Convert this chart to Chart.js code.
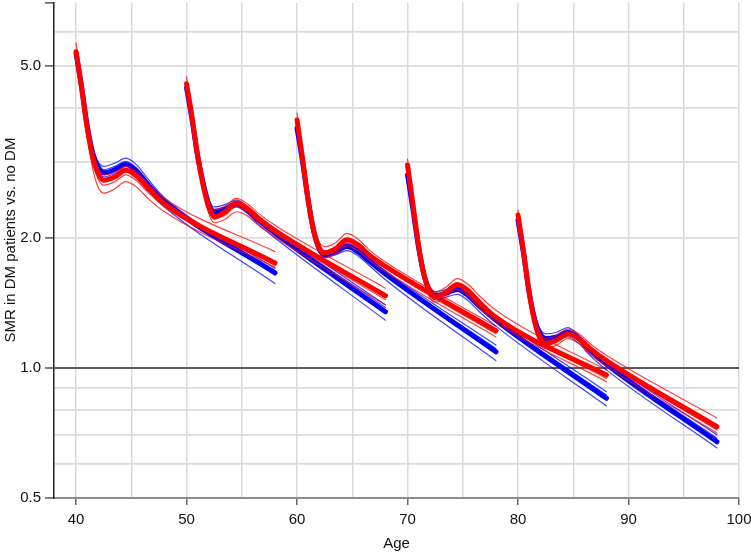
<!DOCTYPE html>
<html><head><meta charset="utf-8">
<script src="https://cdn.jsdelivr.net/npm/chart.js@4"></script>
<style>html,body{margin:0;padding:0;background:#fff;}#wrap{width:751px;height:553px;position:relative;}</style>
</head><body><div id="wrap"><canvas id="c"></canvas></div>
<script>
// Age at which each follow-up curve starts
const groupStarts = [40, 50, 60, 70, 80];
// Years after start at which each curve is read
const ageOffsets = [0, 0.5, 1, 1.5, 2, 2.5, 3.5, 4.5, 5.5, 6.5, 8, 18];

// SMR values, one row per start age
const blueMain = [
  [5.35, 4.47, 3.65, 3.15, 2.92, 2.83, 2.88, 2.96, 2.85, 2.66, 2.43, 1.66],
  [4.45, 3.75, 3.10, 2.68, 2.40, 2.30, 2.33, 2.40, 2.32, 2.20, 2.05, 1.35],
  [3.59, 3.00, 2.45, 2.08, 1.89, 1.83, 1.86, 1.91, 1.86, 1.77, 1.65, 1.09],
  [2.80, 2.32, 1.90, 1.64, 1.51, 1.47, 1.49, 1.52, 1.47, 1.39, 1.29, 0.851],
  [2.20, 1.84, 1.50, 1.30, 1.20, 1.17, 1.18, 1.21, 1.17, 1.10, 1.02, 0.675]
];
const redMain = [
  [5.40, 4.45, 3.60, 3.08, 2.82, 2.72, 2.77, 2.87, 2.78, 2.61, 2.40, 1.75],
  [4.55, 3.80, 3.10, 2.65, 2.36, 2.24, 2.30, 2.41, 2.34, 2.22, 2.08, 1.47],
  [3.75, 3.05, 2.45, 2.08, 1.90, 1.85, 1.89, 1.98, 1.93, 1.83, 1.72, 1.22],
  [2.95, 2.38, 1.92, 1.64, 1.50, 1.46, 1.50, 1.56, 1.51, 1.42, 1.31, 0.963],
  [2.26, 1.86, 1.50, 1.28, 1.17, 1.14, 1.16, 1.20, 1.17, 1.11, 1.04, 0.731]
];
const blueUpper = [
  [5.30, 4.50, 3.72, 3.23, 3.00, 2.93, 2.98, 3.06, 2.95, 2.74, 2.48, 1.70],
  [4.40, 3.75, 3.12, 2.72, 2.46, 2.36, 2.39, 2.45, 2.37, 2.25, 2.10, 1.40],
  [3.55, 2.98, 2.46, 2.11, 1.92, 1.86, 1.89, 1.94, 1.89, 1.80, 1.68, 1.13],
  [2.78, 2.33, 1.93, 1.67, 1.54, 1.50, 1.52, 1.55, 1.50, 1.42, 1.32, 0.881],
  [2.18, 1.84, 1.52, 1.32, 1.23, 1.20, 1.21, 1.24, 1.19, 1.12, 1.04, 0.700]
];
const blueInner = [
  [5.32, 4.49, 3.69, 3.19, 2.96, 2.88, 2.93, 3.01, 2.90, 2.70, 2.45, 1.68],
  [4.42, 3.75, 3.11, 2.70, 2.43, 2.33, 2.36, 2.43, 2.35, 2.23, 2.08, 1.38],
  [3.57, 2.99, 2.45, 2.09, 1.90, 1.85, 1.88, 1.93, 1.88, 1.79, 1.66, 1.11],
  [2.79, 2.32, 1.91, 1.65, 1.52, 1.48, 1.50, 1.53, 1.48, 1.40, 1.30, 0.866],
  [2.19, 1.84, 1.51, 1.31, 1.21, 1.18, 1.19, 1.22, 1.18, 1.11, 1.03, 0.688]
];
const blueLower = [
  [5.25, 4.40, 3.60, 3.10, 2.86, 2.77, 2.82, 2.90, 2.78, 2.58, 2.36, 1.57],
  [4.35, 3.70, 3.05, 2.64, 2.38, 2.27, 2.30, 2.36, 2.28, 2.15, 2.00, 1.29],
  [3.50, 2.93, 2.40, 2.04, 1.85, 1.80, 1.83, 1.87, 1.82, 1.73, 1.60, 1.04],
  [2.74, 2.28, 1.87, 1.61, 1.48, 1.44, 1.46, 1.48, 1.43, 1.35, 1.25, 0.817],
  [2.15, 1.80, 1.48, 1.28, 1.18, 1.15, 1.16, 1.18, 1.14, 1.07, 0.99, 0.653]
];
const redUpper = [
  [5.65, 4.60, 3.70, 3.15, 2.90, 2.80, 2.84, 2.93, 2.84, 2.67, 2.47, 1.86],
  [4.72, 3.90, 3.18, 2.72, 2.44, 2.32, 2.37, 2.47, 2.40, 2.28, 2.14, 1.53],
  [3.89, 3.12, 2.50, 2.13, 1.96, 1.91, 1.95, 2.05, 1.99, 1.88, 1.76, 1.25],
  [3.04, 2.44, 1.96, 1.68, 1.55, 1.50, 1.54, 1.61, 1.56, 1.47, 1.36, 0.990],
  [2.32, 1.90, 1.53, 1.31, 1.20, 1.17, 1.19, 1.23, 1.20, 1.14, 1.07, 0.766]
];
const redInner = [
  [5.35, 4.38, 3.53, 3.00, 2.74, 2.65, 2.70, 2.80, 2.71, 2.55, 2.36, 1.73],
  [4.52, 3.76, 3.06, 2.62, 2.32, 2.21, 2.26, 2.36, 2.30, 2.18, 2.05, 1.44],
  [3.72, 3.02, 2.42, 2.06, 1.88, 1.83, 1.86, 1.95, 1.90, 1.81, 1.70, 1.20],
  [2.92, 2.35, 1.90, 1.62, 1.48, 1.44, 1.48, 1.54, 1.49, 1.40, 1.30, 0.946],
  [2.24, 1.84, 1.48, 1.27, 1.16, 1.13, 1.15, 1.19, 1.16, 1.10, 1.03, 0.718]
];
const redLower = [
  [5.30, 4.30, 3.45, 2.90, 2.62, 2.54, 2.60, 2.70, 2.62, 2.47, 2.30, 1.71],
  [4.50, 3.72, 3.02, 2.58, 2.28, 2.17, 2.21, 2.30, 2.25, 2.14, 2.01, 1.40],
  [3.70, 3.00, 2.40, 2.04, 1.86, 1.80, 1.84, 1.92, 1.87, 1.78, 1.67, 1.18],
  [2.90, 2.33, 1.87, 1.60, 1.46, 1.42, 1.46, 1.52, 1.47, 1.38, 1.28, 0.930],
  [2.22, 1.82, 1.46, 1.25, 1.14, 1.11, 1.13, 1.17, 1.14, 1.08, 1.01, 0.707]
];

// Axis ticks
const xGridValues = [40, 45, 50, 55, 60, 65, 70, 75, 80, 85, 90, 95, 100];
const xLabelValues = [40, 50, 60, 70, 80, 90, 100];
const yGridValues = [0.5, 0.6, 0.7, 0.8, 0.9, 1, 2, 3, 4, 5, 6, 7];
const yLabelValues = [0.5, 1, 2, 5];
const yTickMarkValues = [0.5, 1, 2, 5, 7];

const BLUE = '#0000ff', RED = '#ff0000';
const BLUE_THIN = 'rgba(0,0,255,0.75)', RED_THIN = 'rgba(255,0,0,0.75)';

const layers = [
  { src: blueLower, color: BLUE_THIN, width: 1.2 },
  { src: blueUpper, color: BLUE_THIN, width: 1.2 },
  { src: blueInner, color: BLUE_THIN, width: 1.2 },
  { src: blueMain, color: BLUE, width: 5 },
  { src: redLower, color: RED_THIN, width: 1.2 },
  { src: redUpper, color: RED_THIN, width: 1.2 },
  { src: redInner, color: RED_THIN, width: 1.2 },
  { src: redMain, color: RED, width: 5 }
];

const datasets = [];
let seq = 0;
groupStarts.forEach((start, g) => {
  layers.forEach(layer => {
    datasets.push({
      data: ageOffsets.map((o, i) => ({ x: start + o, y: layer.src[g][i] })),
      borderColor: layer.color,
      borderWidth: layer.width,
      pointRadius: 0,
      fill: false,
      cubicInterpolationMode: 'monotone',
      borderCapStyle: 'round',
      borderJoinStyle: 'round',
      order: -seq
    });
    seq++;
  });
});

Chart.defaults.font.family = '"Liberation Sans", Arial, Helvetica, sans-serif';
Chart.defaults.color = '#111';

new Chart(document.getElementById('c'), {
  type: 'line',
  data: { datasets },
  options: {
    responsive: true,
    maintainAspectRatio: false,
    animation: false,
    events: [],
    layout: { padding: { top: 3, right: 12, left: 0, bottom: 0 } },
    plugins: { legend: { display: false }, tooltip: { enabled: false } },
    scales: {
      x: {
        type: 'linear',
        min: 38,
        max: 100,
        afterBuildTicks: s => { s.ticks = xGridValues.map(v => ({ value: v })); },
        afterFit: s => { s.height = 55; s.paddingLeft = 0; s.paddingRight = 0; },
        ticks: {
          autoSkip: false,
          maxRotation: 0,
          padding: 6,
          font: { size: 15 },
          color: '#111',
          callback: v => xLabelValues.includes(v) ? String(v) : ''
        },
        grid: {
          color: '#d9d9d9',
          lineWidth: 1.5,
          tickLength: 7,
          tickWidth: 1.5,
          tickColor: c => xLabelValues.includes(c.tick.value) ? '#666' : 'rgba(0,0,0,0)'
        },
        border: { color: '#8c8c8c', width: 2 },
        title: { display: true, text: 'Age', font: { size: 15 }, color: '#111', padding: { top: 0, bottom: 0 } }
      },
      y: {
        type: 'logarithmic',
        min: 0.5,
        max: 7,
        afterBuildTicks: s => { s.ticks = yGridValues.map(v => ({ value: v })); },
        afterFit: s => { s.width = 54; s.paddingTop = 0; s.paddingBottom = 0; },
        ticks: {
          autoSkip: false,
          padding: 4,
          font: { size: 15 },
          color: '#111',
          callback: v => yLabelValues.includes(v) ? v.toFixed(1) : ''
        },
        grid: {
          color: c => c.tick.value === 1 ? '#5a5a5a' : (c.tick.value === 7 ? 'rgba(0,0,0,0)' : '#dcdcdc'),
          lineWidth: c => c.tick.value === 1 ? 2 : 1.8,
          tickLength: 9,
          tickWidth: 1.5,
          tickColor: c => yTickMarkValues.includes(c.tick.value) ? '#555' : 'rgba(0,0,0,0)'
        },
        border: { color: '#222', width: 1.5 },
        title: { display: true, text: '     SMR in DM patients vs. no DM', font: { size: 15 }, color: '#111', padding: { top: 2, bottom: 0 } }
      }
    }
  }
});
</script>
</body></html>
